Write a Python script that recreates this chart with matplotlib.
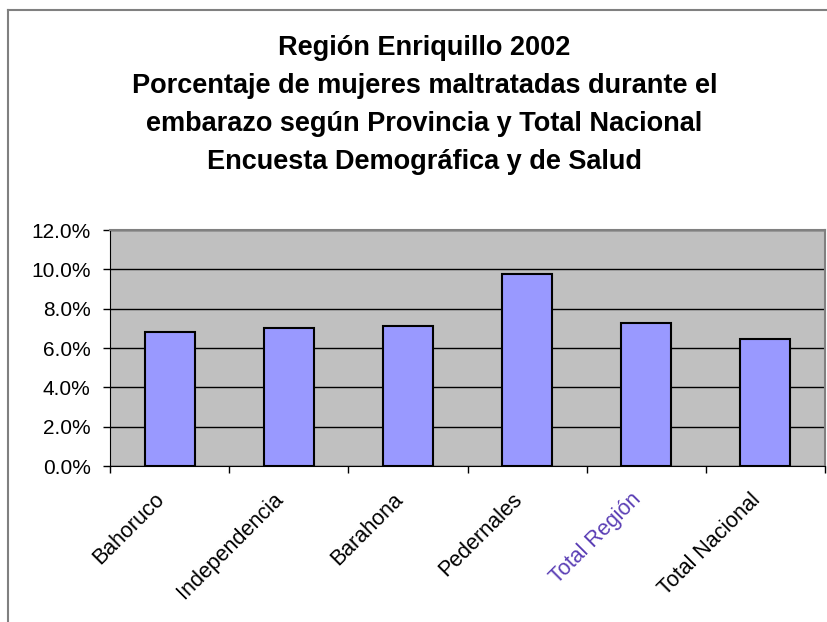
import matplotlib
matplotlib.use("Agg")
import matplotlib.pyplot as plt
from matplotlib.ticker import FuncFormatter, FixedLocator
import numpy as np

plt.rcParams['font.family'] = ['Liberation Sans', 'DejaVu Sans']

# porcentaje de mujeres maltratadas durante el embarazo
provincias = ["Bahoruco", "Independencia", "Barahona", "Pedernales",
              "Total Región", "Total Nacional"]
porcentajes = [6.8, 7.0, 7.1, 9.75, 7.25, 6.45]
label_colors = ["black", "black", "black", "black", "#5b3fb5", "black"]

titulo = ("Región Enriquillo 2002\n"
          "Porcentaje de mujeres maltratadas durante el\n"
          "embarazo según Provincia y Total Nacional\n"
          "Encuesta Demográfica y de Salud")

fig = plt.figure(figsize=(8.27, 6.22), dpi=100)
W, H = 827, 622

# frame of the chart area (left and top edges only visible)
fig.add_artist(plt.Line2D([8 / W, 8 / W], [0, 1 - 10 / H], color="#808080", lw=1.5))
fig.add_artist(plt.Line2D([8 / W, 1], [1 - 10 / H, 1 - 10 / H], color="#808080", lw=1.5))

ax = fig.add_axes([110 / W, 1 - 466 / H, (825 - 110) / W, (466 - 230) / H])
ax.set_facecolor("#c0c0c0")

x = np.arange(len(provincias))
ax.bar(x, porcentajes, width=0.42, color="#9999ff", edgecolor="black",
       linewidth=1.5, zorder=3)

ax.set_xlim(-0.5, len(provincias) - 0.5)
ax.set_ylim(0, 12)
ax.set_yticks(np.arange(0, 12.1, 2))
ax.yaxis.set_major_formatter(FuncFormatter(lambda v, p: f"{v:.1f}%"))
ax.grid(axis="y", color="black", linewidth=1, zorder=1)
ax.tick_params(axis="y", labelsize=15, length=5, width=1, direction="out", pad=9)

# category boundaries carry the tick marks, labels sit at the centers
ax.xaxis.set_major_locator(FixedLocator(np.arange(-0.5, len(provincias), 1)))
ax.set_xticklabels([])
ax.tick_params(axis="x", length=5, width=1, direction="out")
for i, (name, c) in enumerate(zip(provincias, label_colors)):
    ax.annotate(name, xy=(i, 0), xycoords=("data", "axes fraction"),
                xytext=(-6, -22), textcoords="offset points",
                rotation=45, rotation_mode="anchor", ha="right", va="center",
                fontsize=15.5, color=c)

for side in ("top", "right"):
    ax.spines[side].set_color("#808080")
    ax.spines[side].set_linewidth(1.5)
ax.spines["left"].set_color("black")
ax.spines["bottom"].set_color("black")

fig.text(0.5 + 11 / W, 1 - 35 / H, titulo, ha="center", va="top",
         fontsize=19.5, fontweight="bold", linespacing=1.6)

fig.savefig("out.png", dpi=100)
